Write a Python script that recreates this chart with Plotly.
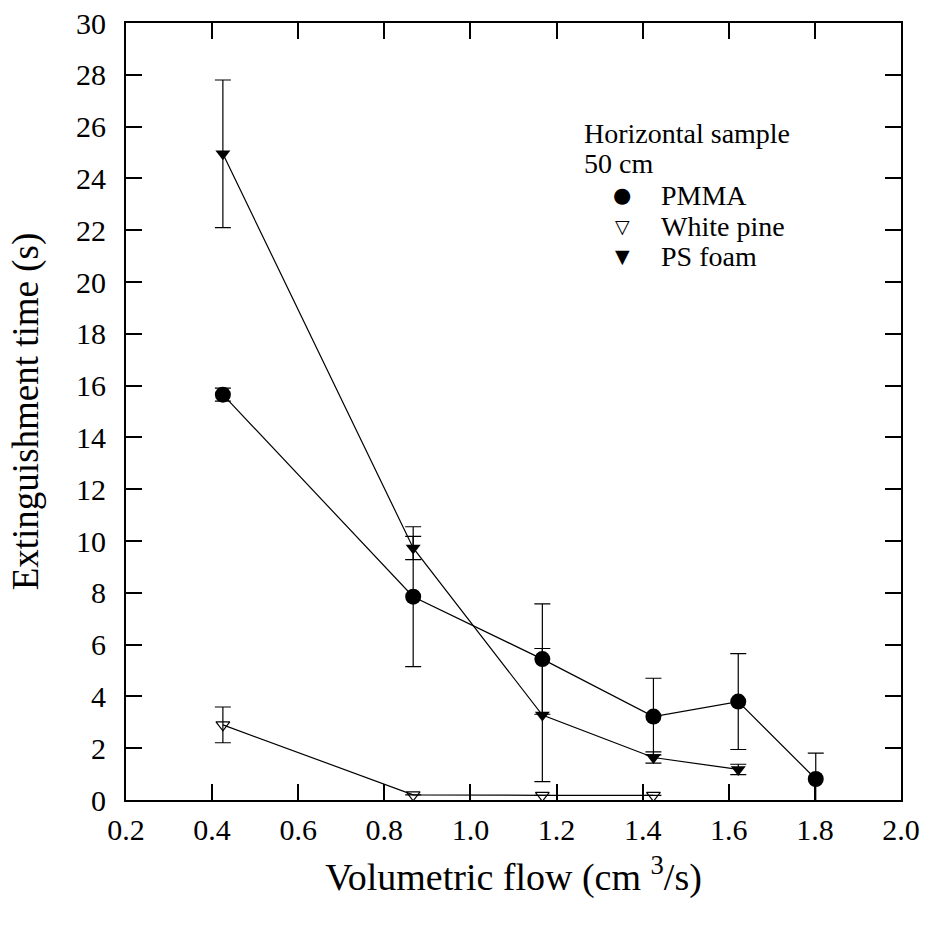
import plotly.graph_objects as go

# ---- data ----
flow = [0.425, 0.867, 1.167, 1.425, 1.622, 1.802]

pmma_x = flow
pmma_y = [15.65, 7.85, 5.44, 3.22, 3.80, 0.81]
pmma_err = [0.25, 2.70, 2.13, 1.48, 1.85, 1.00]

pine_x = flow[:4]
pine_y = [2.90, 0.20, 0.18, 0.18]
pine_err = [0.69, 0.0, 0.0, 0.0]

ps_x = flow[:5]
ps_y = [24.95, 9.73, 3.28, 1.64, 1.18]
ps_err = [2.85, 0.45, 2.57, 0.22, 0.20]

x_ticks = [0.2, 0.4, 0.6, 0.8, 1.0, 1.2, 1.4, 1.6, 1.8, 2.0]
x_ticklabels = ["0.2", "0.4", "0.6", "0.8", "1.0", "1.2", "1.4", "1.6", "1.8", "2.0"]
y_ticks = list(range(0, 31, 2))

legend_title = ["Horizontal sample", "50 cm"]
legend_names = ["PMMA", "White pine", "PS foam"]
legend_glyphs = ["\u25CF", "\u25BD", "\u25BC"]

FONT = "Liberation Serif"
W, H = 925, 925
L, R, T, B = 126, 24, 23, 125

fig = go.Figure()

def err(vals):
    return dict(type="data", array=vals, visible=True, color="black",
                thickness=1.2, width=8)

fig.add_trace(go.Scatter(
    x=pmma_x, y=pmma_y, mode="lines+markers", name="PMMA",
    line=dict(color="black", width=1.2),
    marker=dict(symbol="circle", size=16, color="black"),
    error_y=err(pmma_err), cliponaxis=True, showlegend=False))

fig.add_trace(go.Scatter(
    x=pine_x, y=pine_y, mode="lines+markers", name="White pine",
    line=dict(color="black", width=1.2),
    marker=dict(symbol="triangle-down-open", size=12, color="black",
                line=dict(width=1.2, color="black")),
    error_y=err(pine_err), cliponaxis=False, showlegend=False))

fig.add_trace(go.Scatter(
    x=ps_x, y=ps_y, mode="lines+markers", name="PS foam",
    line=dict(color="black", width=1.2),
    marker=dict(symbol="triangle-down", size=13, color="black"),
    error_y=err(ps_err), cliponaxis=False, showlegend=False))

pw, ph = W - L - R, H - T - B
def px(x):
    return (x - L) / pw
def py(y):
    return (H - B - y) / ph

ann = []
for txt, base in zip(legend_title, [142, 173]):
    ann.append(dict(text=txt, x=px(582), y=py(base - 9), xref="paper", yref="paper",
                    xanchor="left", yanchor="middle", showarrow=False,
                    font=dict(family=FONT, size=28, color="black")))
glyph_sizes = [21, 19, 19]
for name, glyph, gs, base in zip(legend_names, legend_glyphs, glyph_sizes, [204, 235, 265]):
    ann.append(dict(text=name, x=px(659), y=py(base - 9), xref="paper", yref="paper",
                    xanchor="left", yanchor="middle", showarrow=False,
                    font=dict(family=FONT, size=28, color="black")))
    ann.append(dict(text=glyph, x=px(622), y=py(base - 9), xref="paper", yref="paper",
                    xanchor="center", yanchor="middle", showarrow=False,
                    font=dict(family="DejaVu Sans", size=gs, color="black")))

axis_common = dict(showline=True, linecolor="black", linewidth=2, mirror="ticks",
                   ticks="inside", ticklen=16, tickwidth=1.5, tickcolor="black",
                   showgrid=False, zeroline=False,
                   tickfont=dict(family=FONT, size=30, color="black"))

fig.update_layout(
    width=W, height=H,
    font=dict(family=FONT, color="black"),
    margin=dict(l=L, r=R, t=T, b=B, autoexpand=False),
    paper_bgcolor="white", plot_bgcolor="white",
    annotations=ann,
    xaxis=dict(range=[0.2, 2.0], tickvals=x_ticks, ticktext=x_ticklabels,
               ticklabelstandoff=2,
               title=dict(text="Volumetric flow (cm <sup>3</sup>/s)",
                          font=dict(family=FONT, size=38, color="black"), standoff=18),
               **axis_common),
    yaxis=dict(range=[0, 30], tickvals=y_ticks, ticklabelstandoff=12,
               title=dict(text="Extinguishment time (s)",
                          font=dict(family=FONT, size=37, color="black"), standoff=26),
               **axis_common),
)

fig.write_html("out.html",
               config={"displayModeBar": False},
               post_script="document.body.style.margin='0';document.body.style.overflow='hidden';")
